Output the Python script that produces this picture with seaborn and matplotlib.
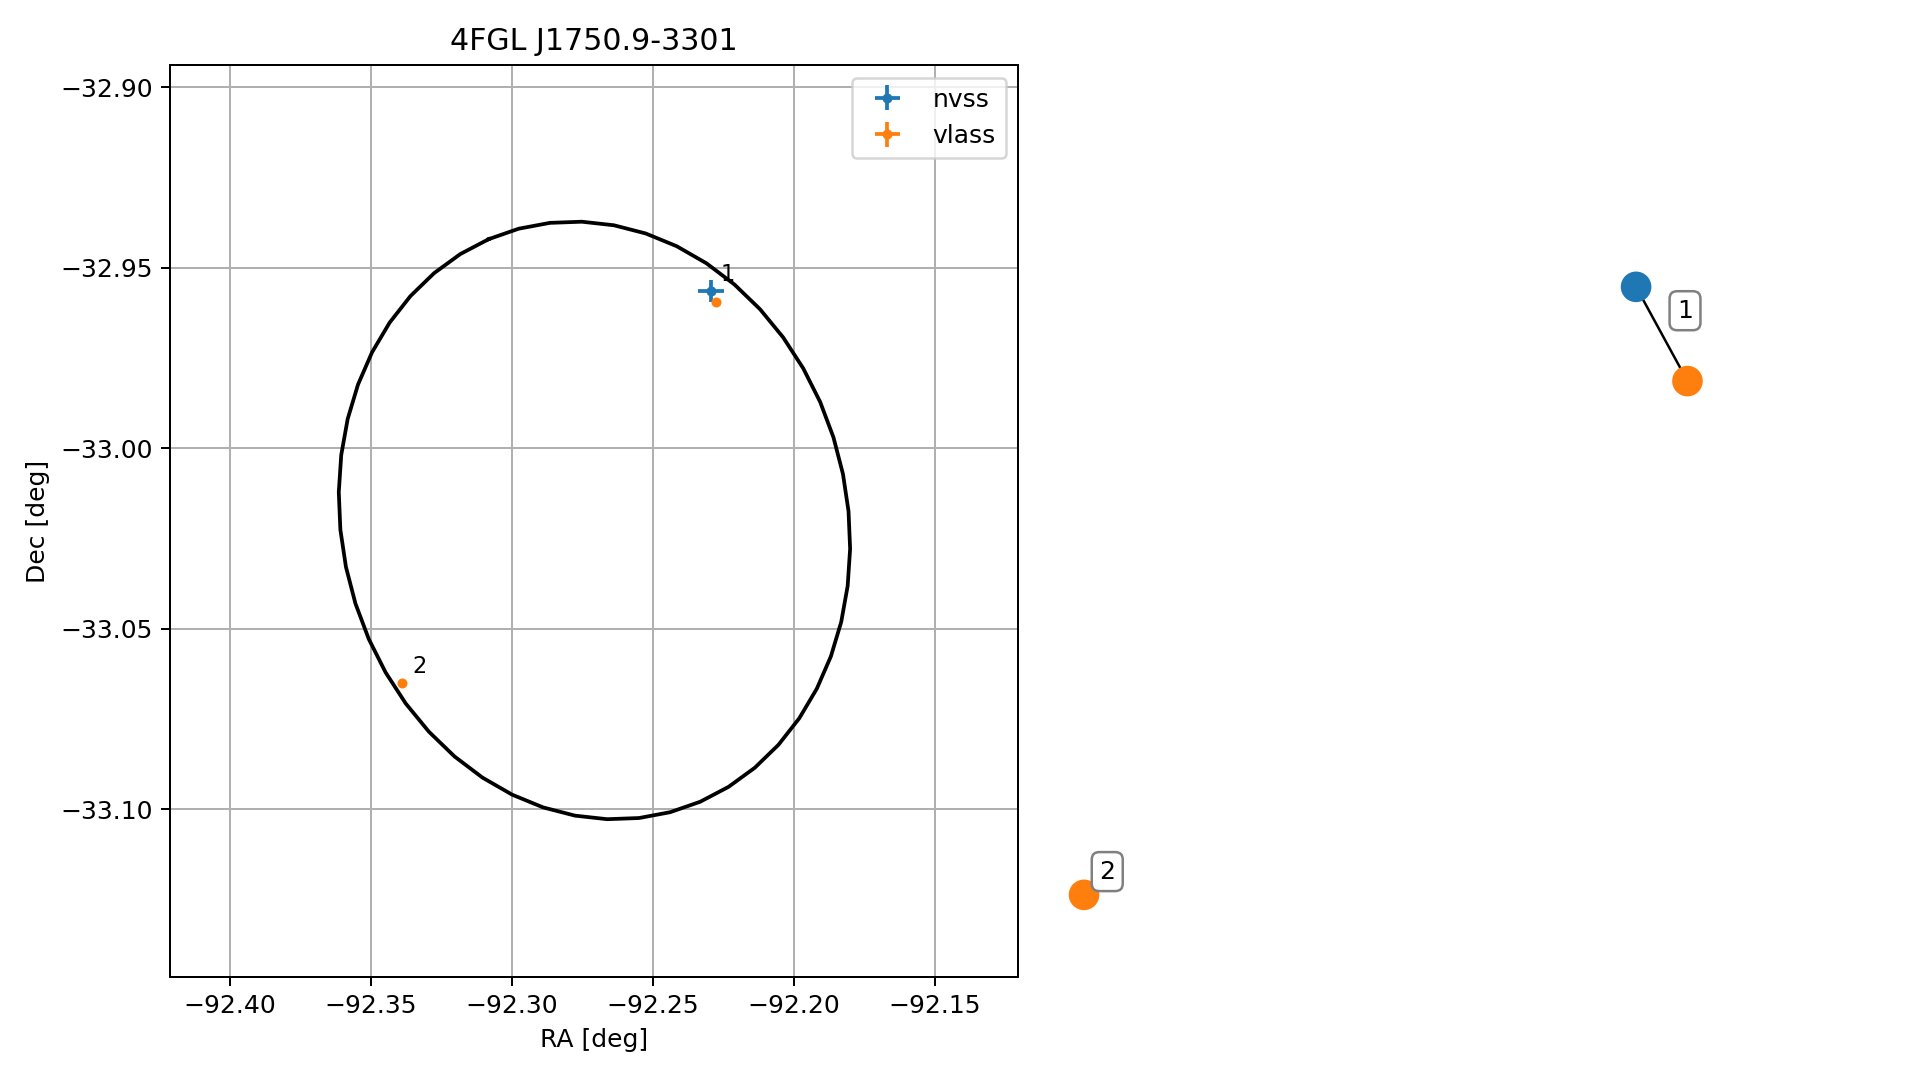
"""Fermi-Quelle mit NVSS/VLASS-Gegenstuecken und Match-Graph."""

import matplotlib

matplotlib.use("Agg")

import matplotlib.pyplot as plt
import numpy as np
import pandas as pd
import seaborn as sns

SOURCE_NAME = "4FGL J1750.9-3301"

# 95%-Fehlerellipse (Zentrum in deg, Halbachsen in deg, Positionswinkel in deg)
ELLIPSE_RA = -92.2707
ELLIPSE_DEC = -33.020
ELLIPSE_A = 0.0840
ELLIPSE_B = 0.0747
ELLIPSE_PA = -22.0
ELLIPSE_POINTS = 51

# Radio-Gegenstuecke
nvss_ra = [-92.2294]
nvss_dec = [-32.9565]
nvss_ra_err = [0.0045]
nvss_dec_err = [0.0030]

vlass_ra = [-92.2277, -92.3389]
vlass_dec = [-32.9595, -33.0650]
vlass_ra_err = [0.0001, 0.0001]
vlass_dec_err = [0.0001, 0.0001]

match_labels = ["1", "2"]
match_label_ra = [-92.2294, -92.3389]
match_label_dec = [-32.9565, -33.0650]

# Match-Graph (Layout-Koordinaten)
node_names = ["nvss_0", "vlass_0", "vlass_1"]
node_catalog = ["nvss", "vlass", "vlass"]
node_x = [0.816, 0.985, -1.0]
node_y = [1.0, 0.690, -1.0]
edge_pairs = [(0, 1)]
group_labels = ["1", "2"]
group_nodes = [[0, 1], [2]]

CATALOG_COLORS = {"nvss": "#1f77b4", "vlass": "#ff7f0e"}


def ellipse_frame() -> pd.DataFrame:
    t = np.linspace(0, 2 * np.pi, ELLIPSE_POINTS)
    pa = np.radians(ELLIPSE_PA)
    east = ELLIPSE_A * np.cos(t) * np.sin(pa) + ELLIPSE_B * np.sin(t) * np.cos(pa)
    north = ELLIPSE_A * np.cos(t) * np.cos(pa) - ELLIPSE_B * np.sin(t) * np.sin(pa)
    ra = ELLIPSE_RA + east / np.cos(np.radians(ELLIPSE_DEC))
    dec = ELLIPSE_DEC + north
    return pd.DataFrame({"ra": ra, "dec": dec, "step": np.arange(len(t))})


fig = plt.figure(figsize=(1919 / 180, 1080 / 180), dpi=180)
ax = fig.add_axes([0.0886, 0.0954, 0.4419, 0.8444])

sns.lineplot(data=ellipse_frame(), x="ra", y="dec", sort=False, estimator=None,
             color="black", linewidth=1.5, legend=False, ax=ax)
h_nvss = ax.errorbar(nvss_ra, nvss_dec, xerr=nvss_ra_err, yerr=nvss_dec_err,
                     fmt=".", color=CATALOG_COLORS["nvss"], label="nvss")
h_vlass = ax.errorbar(vlass_ra, vlass_dec, xerr=vlass_ra_err, yerr=vlass_dec_err,
                      fmt=".", color=CATALOG_COLORS["vlass"], label="vlass")
for label, ra, dec in zip(match_labels, match_label_ra, match_label_dec):
    ax.annotate(label, (ra, dec), xytext=(6.8, 6.5), textcoords="offset points",
                ha="center", va="center", fontsize=9)

ax.set_xlim(-92.4213, -92.1204)
ax.set_ylim(-33.1464, -32.8939)
ax.set_xticks([-92.40, -92.35, -92.30, -92.25, -92.20, -92.15])
ax.set_yticks([-32.90, -32.95, -33.00, -33.05, -33.10])
ax.grid(True)
ax.set_axisbelow(True)
ax.set_title(SOURCE_NAME)
ax.set_xlabel("RA [deg]")
ax.set_ylabel("Dec [deg]")
ax.legend(handles=[h_nvss, h_vlass], loc="upper right")

# Match-Graph rechts
graph_ax = fig.add_axes([0.54904, 0.14329, 0.34852, 0.61926])
for i, j in edge_pairs:
    graph_ax.plot([node_x[i], node_x[j]], [node_y[i], node_y[j]], color="black",
                  linewidth=1.0, zorder=1)
nodes_df = pd.DataFrame({"x": node_x, "y": node_y, "catalog": node_catalog})
sns.scatterplot(data=nodes_df, x="x", y="y", hue="catalog", palette=CATALOG_COLORS,
                s=150, edgecolor="none", legend=False, zorder=2, ax=graph_ax)
for label, members in zip(group_labels, group_nodes):
    gx = np.mean([node_x[k] for k in members])
    gy = np.mean([node_y[k] for k in members])
    graph_ax.annotate(label, (gx, gy), xytext=(9.3, 9.3), textcoords="offset points",
                      ha="center", va="center", fontsize=10,
                      bbox=dict(boxstyle="round,pad=0.3", fc="white", ec="gray", lw=1.0))
graph_ax.set_xlim(-1.1, 1.1)
graph_ax.set_ylim(-1.1, 1.1)
graph_ax.axis("off")

fig.savefig("out.png", dpi=180)
plt.close(fig)
